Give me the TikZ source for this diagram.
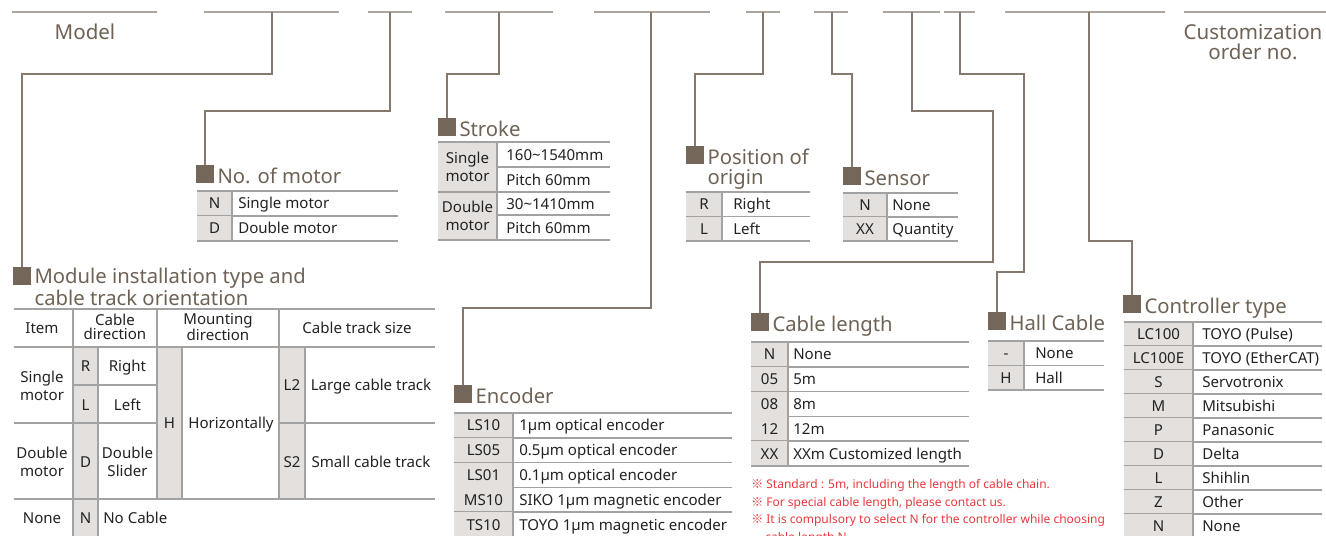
\documentclass[tikz,border=0pt]{standalone}
\usepackage{fontspec}
\setmainfont{Noto Sans}
\newfontfamily\cjk{Noto Sans CJK SC}
\usetikzlibrary{positioning, calc}

\definecolor{sqbrown}{HTML}{74675A}
\definecolor{titlebrown}{HTML}{6E6255}
\definecolor{linkbrown}{HTML}{85796D}
\definecolor{linegray}{HTML}{ABA59E}
\definecolor{rulegray}{HTML}{A2A2A2}
\definecolor{codegray}{HTML}{E4E0DD}
\definecolor{notered}{HTML}{E8383D}
\definecolor{celltext}{HTML}{222222}

\tikzset{%
   topline/.style={draw=linegray, line width=1.1pt},
   link/.style={draw=linkbrown, line width=1.1pt},
   % header square
   hsq/.style={fill=sqbrown, minimum size=13.5pt, inner sep=0pt, anchor=north},
   htitle/.style={text=titlebrown, font=\fontsize{15.2}{14.6}\selectfont,
      inner sep=0pt, anchor=base west, align=left},
   % two line title: base is the last line, so push it one line down
   htitle2/.style={htitle, yshift=-14.6pt},
   rule/.style={draw=rulegray, line width=1.1pt},
   cell/.style={text=celltext, font=\fontsize{11.3}{13.5}\selectfont,
      inner sep=0pt, text height=8.1pt, text depth=0pt},
   cell2/.style={text=celltext, font=\fontsize{11.3}{13.5}\selectfont,
      inner sep=0pt, align=center},
   cellhead/.style={cell2, font=\fontsize{11.3}{10.5}\selectfont},
   note/.style={text=notered, font=\fontsize{9}{10}\selectfont,
      inner sep=0pt, anchor=base west},
}

% simple two column option table
% #1 name, #2 x, #3 top, #4 code width, #5 width, #6 row height, #7 text offset, #8 rows
\newcommand{\optable}[8]{%
  \foreach [count=\i] \c/\d in {#8} {
    \fill[codegray] ({#2},{#3+(\i-1)*#6}) rectangle ({#2+#4},{#3+\i*#6});
    \draw[rule] ({#2+#4},{#3+(\i-1)*#6}) -- ({#2+#4},{#3+\i*#6});
    \node[cell] (#1-c\i) at ({#2+#4/2},{#3+(\i-0.5)*#6}) {\c};
    \node[cell, anchor=west] (#1-d\i) at ({#2+#4+#7},{#3+(\i-0.5)*#6}) {\d};
    \draw[rule] ({#2},{#3+\i*#6}) -- ({#2+#5},{#3+\i*#6});
  }
  \draw[rule] ({#2},{#3}) -- ({#2+#5},{#3});
}

\begin{document}
\begin{tikzpicture}[x=0.75pt, y=-0.75pt]
   \useasboundingbox (0,0) rectangle (1326,535);

   % code segments on top
   \foreach \a/\b in {12/157, 204/339, 368/412, 445/553, 594/710,
                      746/780, 814/848, 883/940, 944/975, 1005/1165, 1184/1326}
      \draw[topline] (\a,12) -- (\b,12);
   \node[text=titlebrown, font=\fontsize{15.4}{15}\selectfont] (model) at (85,32) {Model};
   \node[text=titlebrown, font=\fontsize{15.4}{15}\selectfont, align=center] (custom)
      at (1253,42) {Customization\\order no.};

   \coordinate (kA) at (272,12);
   \coordinate (kB) at (390,12);
   \coordinate (kC) at (499,12);
   \coordinate (kD) at (651,12);
   \coordinate (kE) at (763,12);
   \coordinate (kF) at (832,12);
   \coordinate (kG) at (912,12);
   \coordinate (kH) at (960,12);
   \coordinate (kI) at (1089,12);
   \coordinate (bG) at (993,262);
   \coordinate (bH) at (1024,272);

   % headers
   \node[hsq] (sqModule) at (22,267) {};
   \node[htitle2] (tModule) at ([xshift=2.25pt]sqModule.south east)
      {Module installation type and\\cable track orientation};
   \node[hsq] (sqMotor) at (205,165) {};
   \node[htitle] (tMotor) at ([xshift=2.25pt]sqMotor.south east) {No. of motor};
   \node[hsq] (sqStroke) at (447,118) {};
   \node[htitle] (tStroke) at ([xshift=2.25pt]sqStroke.south east) {Stroke};
   \node[hsq] (sqEnc) at (463,385) {};
   \node[htitle] (tEnc) at ([xshift=2.25pt]sqEnc.south east) {Encoder};
   \node[hsq] (sqPos) at (695,146) {};
   \node[htitle2] (tPos) at ([xshift=2.25pt]sqPos.south east) {Position of\\origin};
   \node[hsq] (sqSensor) at (852,167) {};
   \node[htitle] (tSensor) at ([xshift=2.25pt]sqSensor.south east) {Sensor};
   \node[hsq] (sqCable) at (760,313) {};
   \node[htitle] (tCable) at ([xshift=2.25pt]sqCable.south east) {Cable length};
   \node[hsq] (sqHall) at (997,312) {};
   \node[htitle] (tHall) at ([xshift=2.25pt]sqHall.south east) {Hall Cable};
   \node[hsq] (sqCtrl) at (1132,295) {};
   \node[htitle] (tCtrl) at ([xshift=2.25pt]sqCtrl.south east) {Controller type};

   % connectors
   \draw[link] (kA) -- ++(0,62) -| (sqModule.north);
   \draw[link] (kB) -- ++(0,99) -| (sqMotor.north);
   \draw[link] (kC) -- ++(0,62) -| (sqStroke.north);
   \draw[link] (kD) -- ++(0,296) -| (sqEnc.north);
   \draw[link] (kE) -- ++(0,62) -| (sqPos.north);
   \draw[link] (kF) -- ++(0,62) -| (sqSensor.north);
   \draw[link] (kG) -- ++(0,99) -| (bG) -| (sqCable.north);
   \draw[link] (kH) -- ++(0,62) -| (bH) -| (sqHall.north);
   \draw[link] (kI) -- ++(0,229) -| (sqCtrl.north);

   % module table
   \fill[codegray] (73,347) rectangle (98,545);
   \fill[codegray] (157,347) rectangle (182,499);
   \fill[codegray] (279,347) rectangle (305,499);
   \draw[rule] (14,309) -- (435,309) (14,347) -- (435,347) (73,385) -- (157,385)
      (14,423) -- (157,423) (279,423) -- (435,423) (14,499) -- (435,499);
   \draw[rule] (73,309) -- (73,545) (98,347) -- (98,545) (157,309) -- (157,499)
      (182,347) -- (182,499) (279,309) -- (279,499) (305,347) -- (305,499);
   \node[cell] (mItem) at (42,328) {Item};
   \node[cellhead] (mCable) at (115,327) {Cable\\direction};
   \node[cellhead] (mMount) at (218,327) {Mounting\\direction};
   \node[cell] (mSize) at (357,328) {Cable track size};
   \node[cell2] (mSingle) at (42,386) {Single\\motor};
   \node[cell] (mR) at (85.5,366) {R};
   \node[cell] (mRight) at (127.5,366) {Right};
   \node[cell] (mL) at (85.5,405) {L};
   \node[cell] (mLeft) at (127.5,405) {Left};
   \node[cell2] (mDouble) at (42,462) {Double\\motor};
   \node[cell] (mD) at (85.5,462) {D};
   \node[cell2] (mSlider) at (127.5,462) {Double\\Slider};
   \node[cell] (mH) at (169.5,423) {H};
   \node[cell] (mHor) at (231,423) {Horizontally};
   \node[cell] (mL2) at (292,385) {L2};
   \node[cell] (mLarge) at (371,385) {Large cable track};
   \node[cell] (mS2) at (292,462) {S2};
   \node[cell] (mSmall) at (371,462) {Small cable track};
   \node[cell] (mNone) at (42,518) {None};
   \node[cell] (mN) at (85.5,518) {N};
   \node[cell, anchor=west] (mNoCable) at (103,518) {No Cable};

   % stroke table
   \fill[codegray] (438,142) rectangle (497,240);
   \draw[rule] (438,142) -- (610,142) (497,167) -- (610,167) (438,192) -- (610,192)
      (497,215) -- (610,215) (438,240) -- (610,240) (497,142) -- (497,240);
   \node[cell2] (sSingle) at (467.5,167) {Single\\motor};
   \node[cell, anchor=west] (sRange1) at (506,155) {160\textasciitilde1540mm};
   \node[cell, anchor=west] (sPitch1) at (506,180) {Pitch 60mm};
   \node[cell2] (sDouble) at (467.5,216) {Double\\motor};
   \node[cell, anchor=west] (sRange2) at (506,204) {30\textasciitilde1410mm};
   \node[cell, anchor=west] (sPitch2) at (506,228) {Pitch 60mm};

   % option tables
   \optable{mot}{197}{191}{35}{201}{25}{6}{N/Single motor, D/Double motor}
   \optable{pos}{686}{192}{36}{124}{24.5}{11}{R/Right, L/Left}
   \optable{sen}{843}{193}{44}{115}{24}{5}{N/None, XX/Quantity}
   \optable{enc}{454}{413}{59}{278}{24.8}{6}{LS10/1µm optical encoder,
      LS05/0.5µm optical encoder, LS01/0.1µm optical encoder,
      MS10/SIKO 1µm magnetic encoder, TS10/TOYO 1µm magnetic encoder}
   \optable{cab}{751}{342}{37}{218}{24.8}{5}{N/None, 05/5m, 08/8m, 12/12m,
      XX/XXm Customized length}
   \optable{hal}{988}{341}{36}{116}{24.5}{11}{-/None, H/Hall}
   \optable{ctl}{1124}{322}{69}{198}{24}{9}{LC100/TOYO (Pulse),
      LC100E/TOYO (EtherCAT), S/Servotronix, M/Mitsubishi, P/Panasonic,
      D/Delta, L/Shihlin, Z/Other, N/None}

   % notes
   \node[note] (n1) at (751,488) {{\cjk ※} Standard : 5m, including the length of cable chain.};
   \node[note] (n2) at (751,506) {{\cjk ※} For special cable length, please contact us.};
   \node[note] (n3) at (751,523) {{\cjk ※} It is compulsory to select N for the controller while choosing};
   \node[note] (n4) at (765,541) {cable length N.};
\end{tikzpicture}
\end{document}
